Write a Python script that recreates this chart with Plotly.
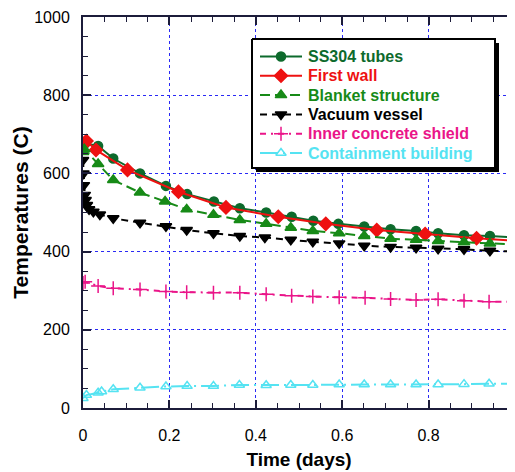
import plotly.graph_objects as go

# ---- data ----
ss_x = [0.0, 0.005, 0.035, 0.07, 0.132, 0.192, 0.241, 0.303, 0.363, 0.424, 0.483, 0.533, 0.591, 0.651, 0.712, 0.771, 0.822, 0.882, 0.942, 1.0]
ss_y = [668, 677, 670, 638, 600, 568, 547, 528, 511, 500, 489, 479, 471, 464, 457, 453, 447, 442, 440, 436]

fw_x = [0.0, 0.008, 0.03, 0.103, 0.221, 0.331, 0.452, 0.562, 0.68, 0.792, 0.911, 1.0]
fw_y = [672, 683, 660, 609, 553, 513, 489, 471, 455, 445, 434, 428]

bl_x = [0.0, 0.003, 0.035, 0.07, 0.132, 0.19, 0.24, 0.302, 0.363, 0.424, 0.481, 0.532, 0.593, 0.651, 0.712, 0.771, 0.822, 0.882, 0.942, 1.0]
bl_y = [655, 662, 624, 583, 551, 528, 508, 494, 481, 471, 461, 453, 447, 440, 433, 430, 427, 424, 421, 418]

vv_x = [0.0, 0.001, 0.002, 0.004, 0.006, 0.009, 0.014, 0.024, 0.039, 0.07, 0.132, 0.192, 0.24, 0.302, 0.363, 0.421, 0.481, 0.532, 0.593, 0.651, 0.712, 0.771, 0.822, 0.882, 0.942, 1.0]
vv_y = [634, 600, 570, 545, 532, 519, 508, 502, 495, 485, 474, 465, 455, 447, 440, 436, 430, 425, 421, 415, 412, 410, 407, 406, 402, 400]

cs_x = [0.0, 0.005, 0.035, 0.07, 0.132, 0.192, 0.24, 0.302, 0.363, 0.424, 0.483, 0.532, 0.593, 0.653, 0.712, 0.771, 0.822, 0.882, 0.94, 1.0]
cs_y = [320, 323, 312, 306, 303, 298, 296, 295, 295, 291, 287, 285, 283, 282, 279, 276, 278, 274, 272, 272]

cb_x = [0.0, 0.008, 0.035, 0.043, 0.07, 0.132, 0.192, 0.241, 0.302, 0.362, 0.424, 0.481, 0.532, 0.593, 0.651, 0.712, 0.771, 0.822, 0.882, 0.94, 1.0]
cb_y = [25, 33, 39, 42, 48, 52, 55, 56, 56, 59, 58, 59, 59, 60, 60, 60, 60, 60, 61, 62, 62]

series_names = ["SS304 tubes", "First wall", "Blanket structure", "Vacuum vessel",
                "Inner concrete shield", "Containment building"]

x_ticks = [0, 0.2, 0.4, 0.6, 0.8, 1]
x_tick_labels = ["0", "0.2", "0.4", "0.6", "0.8", "1"]
y_ticks = [0, 200, 400, 600, 800, 1000]
y_tick_labels = ["0", "200", "400", "600", "800", "1000"]

# ---- styles ----
colors = ["#0d6a2c", "#ee1111", "#178a17", "#000000", "#ea1589", "#55e3f2"]
styles = [
    dict(dash="solid", symbol="circle", size=9),
    dict(dash="solid", symbol="diamond", size=10),
    dict(dash="10px,5px", symbol="triangle-up", size=10),
    dict(dash="7px,5px", symbol="triangle-down", size=10),
    dict(dash="6px,5px,2px,5px", symbol="cross-thin-open", size=10),
    dict(dash="18px,5px,2px,5px", symbol="triangle-up-open", size=9),
]
data = [(ss_x, ss_y), (fw_x, fw_y), (bl_x, bl_y), (vv_x, vv_y), (cs_x, cs_y), (cb_x, cb_y)]

FONT = "Liberation Sans, Arial, sans-serif"
# the page body adds an 8px margin; size the figure so the plot area lands
# at window pixels x 83..515, y 17..408
OFF = 8
W, H = 515 - OFF, 472 - OFF
L, R, T, B = 83 - OFF, 0, 17 - OFF, 64
PX_L, PX_R, PX_T, PX_B = 83, 515, 17, 408  # plot area in window pixels

fig = go.Figure()
for (xs, ys), name, c, st in zip(data, series_names, colors, styles):
    fig.add_trace(go.Scatter(
        x=xs, y=ys, mode="lines+markers", name=name, showlegend=False,
        line=dict(color=c, width=2, dash=st["dash"]),
        marker=dict(symbol=st["symbol"], size=st["size"], color=c,
                    line=dict(color=c, width=1.5)),
    ))

# ---- legend drawn on an overlay axis measured in window pixels ----
box_l, box_t, box_r, box_b, shadow = 252, 39, 495, 168, 4
fig.add_trace(go.Scatter(
    x=[box_l + shadow, box_r + shadow, box_r + shadow, box_l + shadow, box_l + shadow],
    y=[box_t + shadow, box_t + shadow, box_b + shadow, box_b + shadow, box_t + shadow],
    xaxis="x2", yaxis="y2", mode="lines", fill="toself", fillcolor="black",
    line=dict(color="black", width=0), showlegend=False, hoverinfo="skip"))
fig.add_trace(go.Scatter(
    x=[box_l, box_r, box_r, box_l, box_l],
    y=[box_t, box_t, box_b, box_b, box_t],
    xaxis="x2", yaxis="y2", mode="lines", fill="toself", fillcolor="white",
    line=dict(color="black", width=2), showlegend=False, hoverinfo="skip"))

row0, row_gap = 56.5, 19.3
samp_l, samp_r, text_x = 260, 302, 306
for i, (name, c, st) in enumerate(zip(series_names, colors, styles)):
    ry = row0 + i * row_gap
    fig.add_trace(go.Scatter(
        x=[samp_l, samp_r], y=[ry, ry], xaxis="x2", yaxis="y2", mode="lines",
        line=dict(color=c, width=2, dash=st["dash"]), showlegend=False, hoverinfo="skip"))
    fig.add_trace(go.Scatter(
        x=[(samp_l + samp_r) / 2], y=[ry], xaxis="x2", yaxis="y2", mode="markers",
        marker=dict(symbol=st["symbol"], size=st["size"], color=c, line=dict(color=c, width=1.5)),
        showlegend=False, hoverinfo="skip"))
    fig.add_annotation(x=text_x, y=ry, xref="x2", yref="y2", text=f"<b>{name}</b>",
                       showarrow=False, xanchor="left", yanchor="middle",
                       font=dict(family=FONT, size=16, color=c))

axis_common = dict(
    showline=True, linecolor="#1c1c3a", linewidth=2, mirror="ticks",
    ticks="inside", tickcolor="#1c1c3a", tickwidth=1.5, ticklen=8,
    showgrid=True, gridcolor="#2a2af5", gridwidth=1, griddash="dot",
    zeroline=False, automargin=False,
    tickfont=dict(family=FONT, size=16, color="black"),
)

fig.update_xaxes(
    range=[0, 1], tickvals=x_ticks, ticktext=x_tick_labels,
    minor=dict(ticks="inside", dtick=0.05, ticklen=5, tickcolor="#1c1c3a", tickwidth=1, showgrid=False),
    title=dict(text="<b>Time (days)</b>", font=dict(family=FONT, size=19, color="black"), standoff=9),
    ticklabelstandoff=12,
    **axis_common,
)
fig.update_yaxes(
    range=[0, 1000], tickvals=y_ticks, ticktext=y_tick_labels,
    minor=dict(ticks="inside", dtick=50, ticklen=5, tickcolor="#1c1c3a", tickwidth=1, showgrid=False),
    title=dict(text="<b>Temperatures (C)</b>", font=dict(family=FONT, size=21, color="black"), standoff=0),
    ticklabelstandoff=8,
    **axis_common,
)

fig.update_layout(
    width=W, height=H,
    margin=dict(l=L, r=R, t=T, b=B, pad=0),
    plot_bgcolor="white", paper_bgcolor="white",
    showlegend=False,
    xaxis2=dict(overlaying="x", range=[PX_L, PX_R], visible=False, fixedrange=True),
    yaxis2=dict(overlaying="y", range=[PX_B, PX_T], visible=False, fixedrange=True),
)

fig.write_html("out.html")
